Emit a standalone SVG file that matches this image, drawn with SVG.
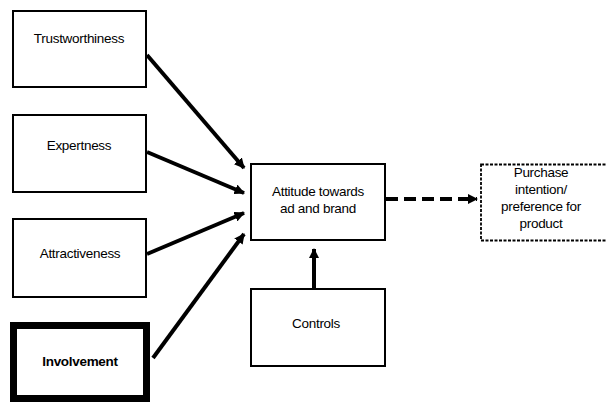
<svg xmlns="http://www.w3.org/2000/svg" width="606" height="403" viewBox="0 0 606 403">
<style>
.box{fill:#fff;stroke:#000;stroke-width:2}
.thick{fill:#fff;stroke:#000;stroke-width:7}
.dash{fill:#fff;stroke:#000;stroke-width:1.8;stroke-dasharray:3,1.5}
.lbl{font-family:"Liberation Sans",Arial,sans-serif;font-size:13.5px;fill:#000;text-anchor:middle;letter-spacing:-0.3px}
.conn{stroke:#000;stroke-width:4;fill:none}
</style>
<defs>
<marker id="ah" viewBox="0 0 10 10" refX="9" refY="5" markerWidth="2.6" markerHeight="2.6" orient="auto" markerUnits="strokeWidth">
<path d="M0,0 L10,5 L0,10 z" fill="#000"/>
</marker>
</defs>
<rect width="606" height="403" fill="#fff"/>
<g id="connectors">
<line class="conn" x1="147" y1="55" x2="244" y2="168" marker-end="url(#ah)"/>
<line class="conn" x1="147" y1="152" x2="244" y2="193" marker-end="url(#ah)"/>
<line class="conn" x1="147" y1="254" x2="244" y2="213" marker-end="url(#ah)"/>
<line class="conn" x1="153" y1="358" x2="244" y2="234" marker-end="url(#ah)"/>
<line class="conn" x1="314" y1="288" x2="314" y2="249" marker-end="url(#ah)"/>
<line class="conn" x1="386" y1="199" x2="477" y2="199" stroke-dasharray="12,6" marker-end="url(#ah)"/>
</g>
<g id="trustworthiness">
<rect class="box" x="13" y="11" width="133" height="76"/>
<text class="lbl" x="79" y="43">Trustworthiness</text>
</g>
<g id="expertness">
<rect class="box" x="13" y="115" width="133" height="77"/>
<text class="lbl" x="79" y="150">Expertness</text>
</g>
<g id="attractiveness">
<rect class="box" x="13" y="219" width="133" height="78"/>
<text class="lbl" x="80" y="258">Attractiveness</text>
</g>
<g id="involvement">
<rect class="thick" x="13.5" y="325.5" width="133" height="73"/>
<text class="lbl" x="80" y="366" font-weight="bold">Involvement</text>
</g>
<g id="attitude">
<rect class="box" x="251" y="164" width="134" height="76"/>
<text class="lbl" x="318" y="196">Attitude towards</text>
<text class="lbl" x="318" y="213">ad and brand</text>
</g>
<g id="purchase">
<rect class="dash" x="481" y="164.5" width="130" height="76"/>
<text class="lbl" x="541" y="177">Purchase</text>
<text class="lbl" x="541" y="194">intention/</text>
<text class="lbl" x="541" y="211">preference for</text>
<text class="lbl" x="541" y="228">product</text>
</g>
<g id="controls">
<rect class="box" x="251" y="289" width="134" height="77"/>
<text class="lbl" x="316" y="328">Controls</text>
</g>
</svg>
